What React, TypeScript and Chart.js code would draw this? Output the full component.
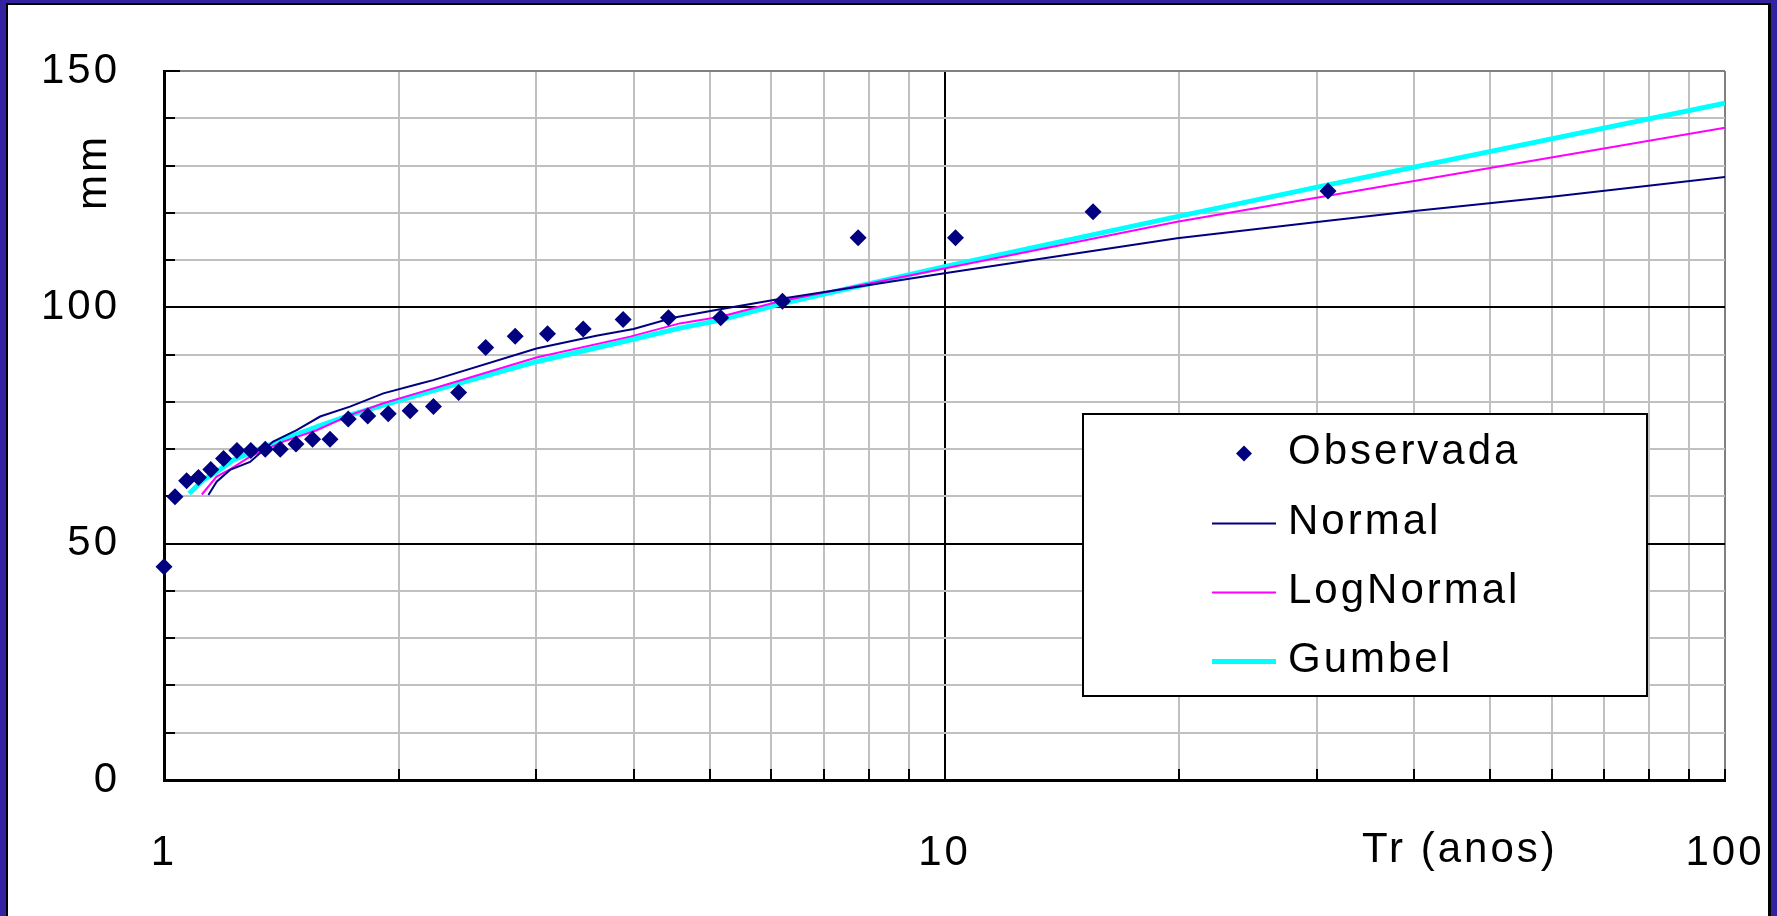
import { useEffect, useRef } from 'react';
import { Chart, registerables } from 'chart.js';

Chart.register(...registerables);

const FONT = "'Liberation Sans', Arial, Helvetica, sans-serif";

// Observed annual maxima (return period in years, value in mm)
const observedT = [1, 1.033, 1.069, 1.107, 1.148, 1.192, 1.24, 1.292, 1.348, 1.409, 1.476, 1.55, 1.632, 1.722, 1.824, 1.938, 2.067, 2.214, 2.385, 2.583, 2.818, 3.1, 3.444, 3.875, 4.429, 5.167, 6.2, 7.75, 10.33, 15.5, 31];
const observedMm = [45.1, 59.9, 63.3, 64.0, 65.7, 68.0, 69.7, 69.7, 70.0, 70.0, 71.1, 72.1, 72.1, 76.4, 77.0, 77.5, 78.1, 79.0, 82.0, 91.5, 93.9, 94.4, 95.4, 97.4, 97.8, 97.8, 101.3, 114.7, 114.7, 120.2, 124.6];

// Fitted distributions
const normalT = [1.14, 1.168, 1.215, 1.289, 1.38, 1.479, 1.585, 1.731, 1.91, 2.13, 2.213, 3.0, 3.58, 3.995, 4.49, 5.16, 6.12, 10, 19.86, 31, 40, 60, 100];
const normalMm = [60.3, 63.1, 65.6, 67.3, 71.6, 74.0, 76.9, 79.0, 81.8, 83.9, 84.6, 91.3, 94.0, 95.4, 97.8, 99.6, 101.7, 107.2, 114.6, 118.3, 120.4, 123.4, 127.6];

const logNormalT = [1.118, 1.168, 1.215, 1.289, 1.422, 1.569, 1.731, 1.91, 2.107, 2.325, 3.0, 3.956, 4.58, 5.16, 6.12, 10, 19.86, 31, 100];
const logNormalMm = [60.4, 64.2, 65.7, 68.4, 71.6, 74.0, 77.2, 79.7, 81.8, 83.9, 89.4, 93.8, 96.6, 98.0, 101.2, 108.2, 118.1, 123.6, 138.0];

const gumbelT = [1.077, 1.123, 1.168, 1.227, 1.289, 1.422, 1.569, 1.731, 1.91, 2.107, 2.325, 3.0, 3.956, 4.58, 5.16, 6.12, 10, 19.86, 31, 100];
const gumbelMm = [60.6, 63.5, 65.2, 67.7, 69.2, 72.1, 74.7, 77.2, 79.3, 81.4, 83.4, 88.5, 93.1, 95.6, 97.3, 100.6, 108.6, 119.2, 125.9, 143.2];

const seriesNames = ['Observada', 'Normal', 'LogNormal', 'Gumbel'];
const xTickLabels = ['1', '10', '100'];
const yTickLabels = ['0', '50', '100', '150'];
const xGridValues = [1, 2, 3, 4, 5, 6, 7, 8, 9, 10, 20, 30, 40, 50, 60, 70, 80, 90, 100];
const xTitle = 'Tr (anos)';
const yTitle = 'mm';

const pts = (xs: number[], ys: number[]) => xs.map((x, i) => ({ x, y: ys[i] }));

const framePlugin = {
  id: 'frame',
  beforeDraw(chart: any) {
    const ctx = chart.ctx;
    ctx.save();
    ctx.fillStyle = '#3423A0';
    ctx.fillRect(0, 0, chart.width, chart.height);
    ctx.fillStyle = '#000';
    ctx.fillRect(6, 3, 1771 - 6, chart.height + 10);
    ctx.fillStyle = '#fff';
    ctx.fillRect(8, 5, 1768 - 8, chart.height + 10);
    ctx.restore();
    ctx.letterSpacing = '3px';
  },
};

const innerTicksPlugin = {
  id: 'innerTicks',
  beforeDatasetsDraw(chart: any) {
    const { ctx, chartArea, scales } = chart;
    ctx.save();
    ctx.strokeStyle = '#000';
    ctx.lineWidth = 2;
    ctx.beginPath();
    for (const t of scales.y.ticks) {
      const py = Math.round(scales.y.getPixelForValue(t.value));
      const len = t.value % 50 === 0 ? 16 : 11;
      ctx.moveTo(chartArea.left, py);
      ctx.lineTo(chartArea.left + len, py);
    }
    for (const t of scales.x.ticks) {
      const px = Math.round(scales.x.getPixelForValue(t.value));
      ctx.moveTo(px, chartArea.bottom);
      ctx.lineTo(px, chartArea.bottom - 11);
    }
    ctx.stroke();
    ctx.restore();
  },
};

const legendPlugin = {
  id: 'boxLegend',
  afterDraw(chart: any) {
    const ctx = chart.ctx;
    ctx.save();
    ctx.letterSpacing = '3px';
    // axis titles
    ctx.fillStyle = '#000';
    ctx.font = `42px ${FONT}`;
    ctx.textAlign = 'left';
    ctx.textBaseline = 'alphabetic';
    ctx.fillText(xTitle, 1362, 862);
    ctx.save();
    ctx.translate(106, 172);
    ctx.rotate(-Math.PI / 2);
    ctx.textAlign = 'center';
    ctx.fillText(yTitle, 0, 0);
    ctx.restore();

    // legend box
    const bx = 1083, by = 414, bw = 564, bh = 282;
    ctx.fillStyle = '#fff';
    ctx.fillRect(bx, by, bw, bh);
    ctx.strokeStyle = '#000';
    ctx.lineWidth = 2;
    ctx.strokeRect(bx, by, bw, bh);
    const baselines = [464, 534, 603, 672];
    chart.data.datasets.forEach((ds: any, i: number) => {
      const base = baselines[i];
      const mid = base - 10.5;
      if (i === 0) {
        const r = 8;
        ctx.fillStyle = ds.backgroundColor;
        ctx.beginPath();
        ctx.moveTo(1244 - r, mid);
        ctx.lineTo(1244, mid - r);
        ctx.lineTo(1244 + r, mid);
        ctx.lineTo(1244, mid + r);
        ctx.closePath();
        ctx.fill();
      } else {
        ctx.strokeStyle = ds.borderColor;
        ctx.lineWidth = ds.borderWidth;
        ctx.beginPath();
        ctx.moveTo(1212, mid);
        ctx.lineTo(1276, mid);
        ctx.stroke();
      }
      ctx.fillStyle = '#000';
      ctx.fillText(ds.label, 1288, base);
    });
    ctx.restore();
  },
};

export default function App() {
  const ref = useRef<HTMLCanvasElement | null>(null);
  useEffect(() => {
    const canvas = ref.current;
    if (!canvas) return;
    const tickFont = { family: FONT, size: 42 };
    const chart = new Chart(canvas, {
      type: 'scatter',
      data: {
        datasets: [
          {
            label: seriesNames[0],
            data: pts(observedT, observedMm),
            showLine: false,
            clip: false,
            pointStyle: 'rectRot',
            pointRadius: 8.5,
            pointHoverRadius: 8.5,
            backgroundColor: '#000080',
            borderColor: '#000080',
            borderWidth: 0,
          },
          {
            label: seriesNames[1],
            data: pts(normalT, normalMm),
            showLine: true,
            borderColor: '#000080',
            backgroundColor: '#000080',
            borderWidth: 2,
            pointRadius: 0,
            tension: 0,
          },
          {
            label: seriesNames[2],
            data: pts(logNormalT, logNormalMm),
            showLine: true,
            borderColor: '#FF00FF',
            backgroundColor: '#FF00FF',
            borderWidth: 2,
            pointRadius: 0,
            tension: 0,
          },
          {
            label: seriesNames[3],
            data: pts(gumbelT, gumbelMm),
            showLine: true,
            borderColor: '#00FFFF',
            backgroundColor: '#00FFFF',
            borderWidth: 5,
            pointRadius: 0,
            tension: 0,
          },
        ],
      },
      options: {
        responsive: false,
        animation: false,
        events: [],
        layout: { padding: { left: 0, right: 52, top: 71, bottom: 0 } },
        plugins: {
          legend: { display: false },
          tooltip: { enabled: false },
          title: { display: false },
        },
        scales: {
          x: {
            type: 'logarithmic',
            position: 'bottom',
            min: 1,
            max: 100,
            afterBuildTicks: (s: any) => {
              s.ticks = xGridValues.map((v) => ({ value: v }));
            },
            afterFit: (s: any) => {
              s.height = 136;
              s.paddingLeft = 0;
              s.paddingRight = 0;
            },
            grid: {
              drawTicks: false,
              lineWidth: 2,
              color: (c: any) => {
                const v = c.tick ? c.tick.value : 0;
                if (v === 100) return '#808080';
                if (v === 1 || v === 10) return '#000';
                return '#C0C0C0';
              },
            },
            border: { color: '#000', width: 3 },
            ticks: {
              autoSkip: false,
              maxRotation: 0,
              minRotation: 0,
              padding: 48,
              color: '#000',
              font: tickFont,
              callback: (v: any) => (xTickLabels.includes(String(v)) ? String(v) : ''),
            },
          },
          y: {
            type: 'linear',
            min: 0,
            max: 150,
            afterFit: (s: any) => {
              s.width = 164;
              s.paddingTop = 0;
              s.paddingBottom = 0;
            },
            grid: {
              drawTicks: false,
              lineWidth: 2,
              color: (c: any) => {
                const v = c.tick ? c.tick.value : 0;
                if (v === 150) return '#808080';
                if (v % 50 === 0) return '#000';
                return '#C0C0C0';
              },
            },
            border: { color: '#000', width: 3 },
            ticks: {
              stepSize: 10,
              autoSkip: false,
              padding: 44,
              color: '#000',
              font: tickFont,
              callback: (v: any) => (yTickLabels.includes(String(v)) ? String(v) : ''),
            },
          },
        },
      },
      plugins: [framePlugin, innerTicksPlugin, legendPlugin],
    } as any);
    return () => chart.destroy();
  }, []);

  return (
    <div style={{ position: 'absolute', left: 0, top: 0, width: 1777, height: 916, overflow: 'hidden' }}>
      <canvas ref={ref} width={1777} height={916} style={{ display: 'block', width: 1777, height: 916 }} />
    </div>
  );
}
